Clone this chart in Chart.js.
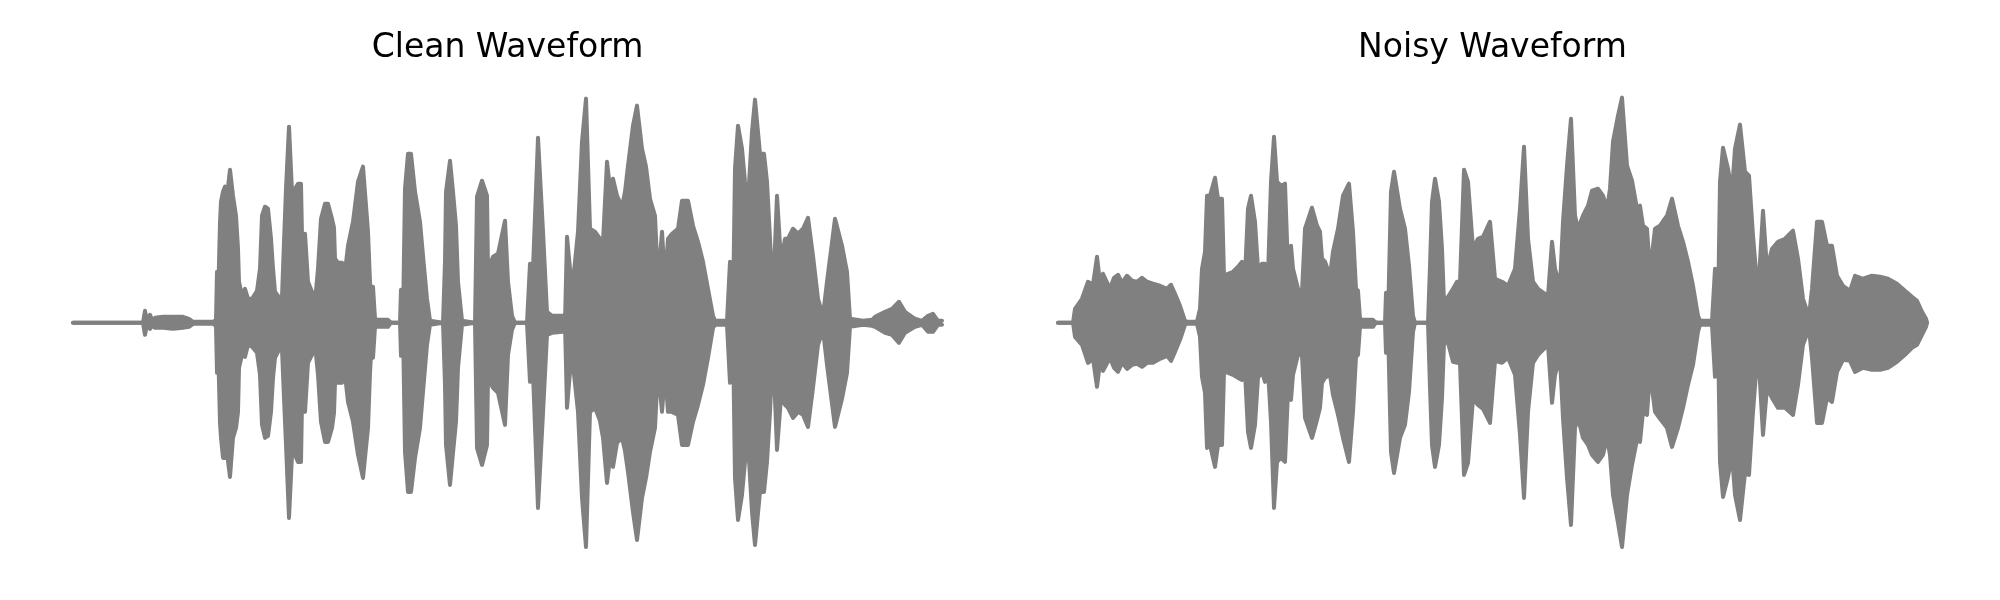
<!DOCTYPE html>
<html>
<head>
<meta charset="utf-8">
<script src="https://cdn.jsdelivr.net/npm/chart.js@4/dist/chart.umd.min.js"></script>
<style>
  html, body { margin: 0; padding: 0; background: #fff; }
  #wrap { position: relative; width: 2000px; height: 600px; }
  .pane { position: absolute; top: 0; width: 1000px; height: 600px; }
</style>
</head>
<body>
<div id="wrap">
  <div class="pane" style="left:0"><canvas id="c1" width="1000" height="600"></canvas></div>
  <div class="pane" style="left:1000px"><canvas id="c2" width="1000" height="600"></canvas></div>
</div>
<script>
// ---- Data: waveform envelopes (frame index, positive peak, negative peak) ----
const titles = ["Clean Waveform", "Noisy Waveform"];

const cleanFrames = [
  0,70,72,74,77,79,82,90,100,110,
  116,120,140,143,144,145,147,148,150,152,
  154,157,160,163,165,166,169,172,175,179,
  184,187,189,192,195,198,200,202,207,209,
  211,213,216,219,222,225,228,229,230,232,
  235,239,242,245,248,252,255,259,261,262,
  265,269,272,275,280,285,290,295,297,299,
  300,302,305,315,317,319,327,328,330,332,
  335,338,342,347,350,354,357,370,372,373,
  377,380,383,385,389,402,404,409,414,415,
  420,425,432,435,439,442,454,457,460,465,
  470,474,479,490,492,494,497,500,505,509,
  513,517,522,527,530,534,537,540,544,549,
  552,555,560,564,569,573,577,582,585,589,
  592,595,599,605,609,615,620,625,630,635,
  640,642,654,657,660,662,665,669,672,675,
  679,682,687,691,694,697,700,704,708,712,
  715,720,725,730,735,740,745,750,754,762,
  769,774,777,790,799,802,812,819,826,832,
  842,849,855,860,865,869];
const cleanUpper = [
  0,0,12,2,8,3,5,6,6,6,
  4,1,1,3,51,20,100,121,131,136,
  127,153,127,107,74,41,27,34,24,24,
  32,54,107,116,114,84,54,31,24,26,
  81,134,196,131,134,139,139,87,64,89,
  41,31,21,54,104,119,119,104,95,64,
  60,60,51,77,101,141,156,91,41,14,
  36,4,3,3,1,0,0,33,4,134,
  169,169,131,101,67,24,2,0,61,131,
  162,131,97,41,2,0,126,142,127,54,
  66,69,102,41,7,0,0,59,54,185,
  91,11,7,7,1,86,54,41,91,181,
  224,94,91,84,81,161,134,144,127,116,
  131,157,197,217,174,156,124,107,41,91,
  41,84,89,94,122,122,97,81,61,34,
  7,2,2,61,14,154,197,174,141,121,
  191,223,169,169,141,84,27,127,61,84,
  84,94,89,94,105,67,24,7,41,104,
  77,51,4,2,3,6,11,14,21,11,
  4,2,7,9,2,2];
const cleanLower = [
  0,0,-12,-2,-6,-3,-5,-5,-6,-5,
  -4,-1,-1,-3,-50,-20,-100,-115,-135,-135,
  -130,-154,-115,-105,-89,-45,-32,-34,-22,-24,
  -30,-52,-102,-115,-113,-89,-55,-35,-25,-26,
  -75,-122,-195,-132,-132,-139,-139,-80,-64,-89,
  -40,-32,-22,-52,-99,-119,-119,-105,-90,-60,
  -60,-60,-52,-79,-99,-132,-155,-105,-50,-14,
  -35,-4,-4,-4,-1,0,0,-33,-4,-129,
  -169,-169,-135,-105,-69,-22,-2,0,-62,-122,
  -162,-130,-99,-45,-2,0,-125,-142,-122,-55,
  -65,-70,-102,-32,-7,0,0,-59,-50,-185,
  -90,-12,-10,-9,-1,-85,-49,-42,-89,-175,
  -224,-89,-85,-98,-115,-160,-135,-144,-120,-115,
  -128,-149,-189,-217,-175,-155,-129,-105,-45,-89,
  -49,-89,-89,-92,-122,-122,-99,-82,-62,-35,
  -5,-2,-2,-60,-14,-155,-197,-172,-139,-119,
  -189,-222,-169,-169,-139,-89,-25,-127,-75,-82,
  -85,-95,-89,-92,-104,-65,-22,-7,-42,-104,
  -76,-50,-4,-2,-3,-4,-10,-12,-20,-10,
  -4,-2,-9,-9,-2,-2];

const noisyFrames = [
  0,15,17,24,30,35,39,42,45,52,
  56,60,64,69,74,79,84,89,95,102,
  109,113,117,122,127,129,139,142,144,147,
  149,152,157,160,164,166,170,175,180,184,
  187,190,193,197,200,204,207,210,213,216,
  219,223,227,230,233,235,240,244,247,254,
  259,262,264,267,272,275,280,285,291,295,
  298,300,302,305,315,317,319,327,328,330,
  333,336,342,347,351,355,357,370,372,374,
  377,381,384,386,390,395,399,402,406,410,
  415,420,425,432,437,444,450,457,462,466,
  470,475,480,490,494,497,502,505,509,513,
  517,520,525,530,534,540,545,549,552,555,
  560,564,569,574,579,582,585,589,592,597,
  602,609,614,620,625,630,635,640,642,654,
  657,660,662,665,670,674,677,682,687,691,
  695,700,705,709,714,720,727,735,740,745,
  751,754,759,764,769,774,779,785,792,797,
  805,814,822,830,839,847,854,859,864,868,
  869];
const noisyUpper = [
  0,0,14,24,41,38,66,40,49,34,
  45,48,40,47,42,41,45,41,39,37,
  34,38,29,17,2,1,1,14,54,71,
  127,127,145,124,124,47,49,51,56,61,
  47,114,127,101,54,59,59,47,141,186,
  141,137,139,54,77,54,34,31,94,115,
  97,91,64,61,47,71,94,127,139,91,
  34,32,4,3,3,1,0,0,30,4,
  131,151,114,94,57,7,0,0,57,121,
  144,121,74,21,26,34,41,41,153,141,
  74,84,86,101,44,41,37,54,114,176,
  84,41,34,27,81,54,37,101,157,204,
  107,94,107,117,132,134,127,114,134,181,
  207,225,157,142,114,117,97,94,51,94,
  97,107,124,97,81,61,37,7,2,2,
  54,11,141,175,154,131,174,198,151,147,
  87,27,112,54,74,81,84,92,64,24,
  6,34,101,101,77,77,47,37,32,47,
  44,47,46,44,39,32,26,22,11,4,
  0];
const noisyLower = [
  0,0,-14,-22,-40,-36,-64,-40,-48,-35,
  -45,-49,-40,-46,-42,-41,-44,-40,-40,-36,
  -33,-38,-29,-17,-2,-1,-1,-14,-54,-70,
  -125,-122,-144,-122,-122,-49,-50,-52,-55,-57,
  -49,-109,-125,-102,-55,-49,-59,-47,-99,-185,
  -139,-135,-139,-69,-77,-52,-32,-32,-95,-115,
  -97,-85,-60,-55,-52,-72,-92,-115,-139,-89,
  -34,-32,-4,-4,-4,-1,0,0,-30,-4,
  -129,-150,-115,-102,-69,-9,0,0,-65,-122,
  -144,-122,-75,-20,-20,-39,-40,-40,-152,-140,
  -76,-82,-86,-100,-38,-40,-35,-52,-112,-175,
  -89,-40,-32,-22,-80,-52,-35,-95,-155,-202,
  -105,-95,-115,-122,-132,-139,-132,-115,-132,-172,
  -200,-224,-172,-142,-117,-119,-89,-92,-49,-89,
  -96,-105,-124,-105,-85,-62,-42,-9,-2,-2,
  -54,-11,-139,-174,-154,-132,-172,-197,-150,-152,
  -89,-25,-112,-65,-75,-85,-85,-92,-62,-22,
  -6,-35,-100,-100,-75,-79,-49,-37,-38,-49,
  -45,-47,-47,-45,-39,-32,-25,-22,-12,-4,
  0];

const GRAY = "#808080";

function pts(xs, ys) { return xs.map((x, i) => ({ x: x, y: ys[i] })); }

function makeChart(id, title, frames, upper, lower, padL, padR) {
  const ctx = document.getElementById(id).getContext("2d");
  return new Chart(ctx, {
    type: "line",
    data: {
      datasets: [
        { data: pts(frames, upper), borderColor: GRAY, backgroundColor: GRAY, borderWidth: 4,
          pointRadius: 0, tension: 0, fill: "+1", clip: false,
          borderCapStyle: "round", borderJoinStyle: "round" },
        { data: pts(frames, lower), borderColor: GRAY, backgroundColor: GRAY, borderWidth: 4,
          pointRadius: 0, tension: 0, fill: false, clip: false,
          borderCapStyle: "round", borderJoinStyle: "round" }
      ]
    },
    options: {
      responsive: false,
      animation: false,
      devicePixelRatio: 1,
      layout: { padding: { left: padL, right: padR, top: 0, bottom: 27 } },
      plugins: {
        legend: { display: false },
        tooltip: { enabled: false },
        title: {
          display: true, text: title, color: "#000",
          font: { family: "'DejaVu Sans'", size: 33, weight: "normal", lineHeight: 1.2 },
          padding: { top: 29, bottom: 4 }
        }
      },
      scales: {
        x: { type: "linear", min: 0, max: 869, display: false },
        y: { type: "linear", min: -250, max: 250, display: false }
      }
    }
  });
}

makeChart("c1", titles[0], cleanFrames, cleanUpper, cleanLower, 73, 58);
makeChart("c2", titles[1], noisyFrames, noisyUpper, noisyLower, 58, 73);
</script>
</body>
</html>
